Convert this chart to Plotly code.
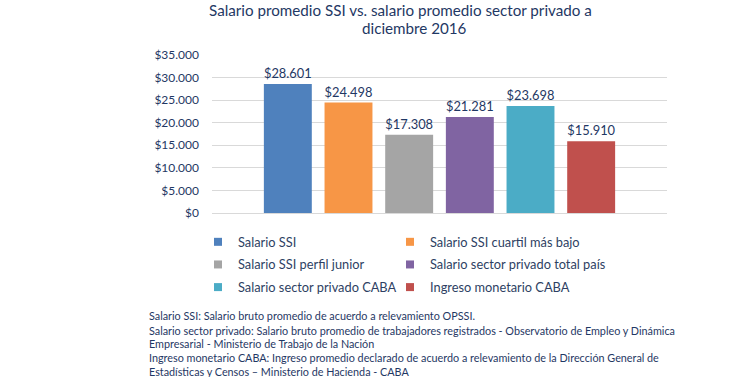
import plotly.graph_objects as go

series_names = [
    "Salario SSI",
    "Salario SSI cuartil más bajo",
    "Salario SSI perfil junior",
    "Salario sector privado total país",
    "Salario sector privado CABA",
    "Ingreso monetario CABA",
]
series_values = [28601, 24498, 17308, 21281, 23698, 15910]
series_colors = ["#4F81BD", "#F79646", "#A5A5A5", "#8064A2", "#4BACC6", "#C0504D"]
legend_column = ["legend", "legend2", "legend", "legend2", "legend", "legend2"]
category = ["dic-2016"]
y_ticks = [0, 5000, 10000, 15000, 20000, 25000, 30000, 35000]
y_ticktext = ["$" + f"{v:,}".replace(",", ".") for v in y_ticks]

title_lines = ["Salario promedio SSI vs. salario promedio sector privado a", "diciembre 2016"]
footnotes = [
    "Salario SSI: Salario bruto promedio de acuerdo a relevamiento OPSSI.",
    "Salario sector privado: Salario bruto promedio de trabajadores registrados - Observatorio de Empleo y Dinámica",
    "Empresarial - Ministerio de Trabajo de la Nación",
    "Ingreso monetario CABA: Ingreso promedio declarado de acuerdo a relevamiento de la Dirección General de",
    "Estadísticas y Censos – Ministerio de Hacienda - CABA",
]

NAVY = "#1F3864"
FONT = "Lato"

fig = go.Figure()
for name, val, col in zip(series_names, series_values, series_colors):
    fig.add_trace(go.Bar(
        x=category, y=[val], name=name, showlegend=False,
        marker=dict(color=col, line=dict(width=0)),
        texttemplate="$%{y:,d}", textposition="outside",
        textfont=dict(size=14, color=NAVY, family=FONT),
        cliponaxis=False,
    ))
# legend entries (small square swatches, as in the reference)
for name, col, lg in zip(series_names, series_colors, legend_column):
    fig.add_trace(go.Scatter(
        x=[None], y=[None], mode="markers", name=name, legend=lg,
        legendgroup=name,
        marker=dict(symbol="square", size=8, color=col),
        showlegend=True, hoverinfo="skip",
    ))

W, H = 751, 377
ml, mr, mt, mb = 212, 84, 55, 164
pw = W - ml - mr
ph = H - mt - mb

def px_x(x):
    return (x - ml) / pw

def px_y(y):
    return (H - mb - y) / ph

legend_common = dict(
    orientation="v", xanchor="left", yanchor="top",
    xref="paper", yref="paper",
    font=dict(size=12.8, color="#2E3F63", family=FONT),
    itemwidth=30, traceorder="grouped", tracegroupgap=3,
    bgcolor="rgba(0,0,0,0)",
)

fig.update_layout(
    width=W, height=H,
    margin=dict(l=ml, r=mr, t=mt, b=mb, pad=0),
    paper_bgcolor="white", plot_bgcolor="white",
    separators=",.",
    barmode="group", bargap=0.2, bargroupgap=0.21,
    font=dict(family=FONT, color=NAVY),
    showlegend=True,
    legend=dict(legend_common, x=px_x(198), y=px_y(227)),
    legend2=dict(legend_common, x=px_x(390), y=px_y(227)),
    xaxis=dict(visible=False, range=[-0.5, 0.5]),
    yaxis=dict(
        range=[0, 35000], tickvals=y_ticks, ticktext=y_ticktext,
        showgrid=True, gridcolor="#D9D9D9", gridwidth=1,
        zeroline=True, zerolinecolor="#D9D9D9", zerolinewidth=1,
        showline=False, ticks="",
        tickfont=dict(size=12, color=NAVY, family=FONT),
        ticklabelstandoff=12,
    ),
)

annotations = []
for t, yy, xc in zip(title_lines, [10, 28], [400, 414]):
    annotations.append(dict(
        text=t, xref="paper", yref="paper",
        x=px_x(xc), y=px_y(yy), xanchor="center", yanchor="middle",
        showarrow=False, font=dict(size=15.2, color=NAVY, family=FONT),
    ))
foot_y = [315, 330, 343, 357, 371]
for t, yy in zip(footnotes, foot_y):
    annotations.append(dict(
        text=t, xref="paper", yref="paper", x=px_x(147), y=px_y(yy),
        xanchor="left", yanchor="middle", showarrow=False,
        font=dict(size=10.8, color=NAVY, family=FONT), align="left",
    ))
fig.update_layout(annotations=annotations)

fig.write_html("out.html", config={"displayModeBar": False},
               post_script="document.body.style.margin='0px';")
